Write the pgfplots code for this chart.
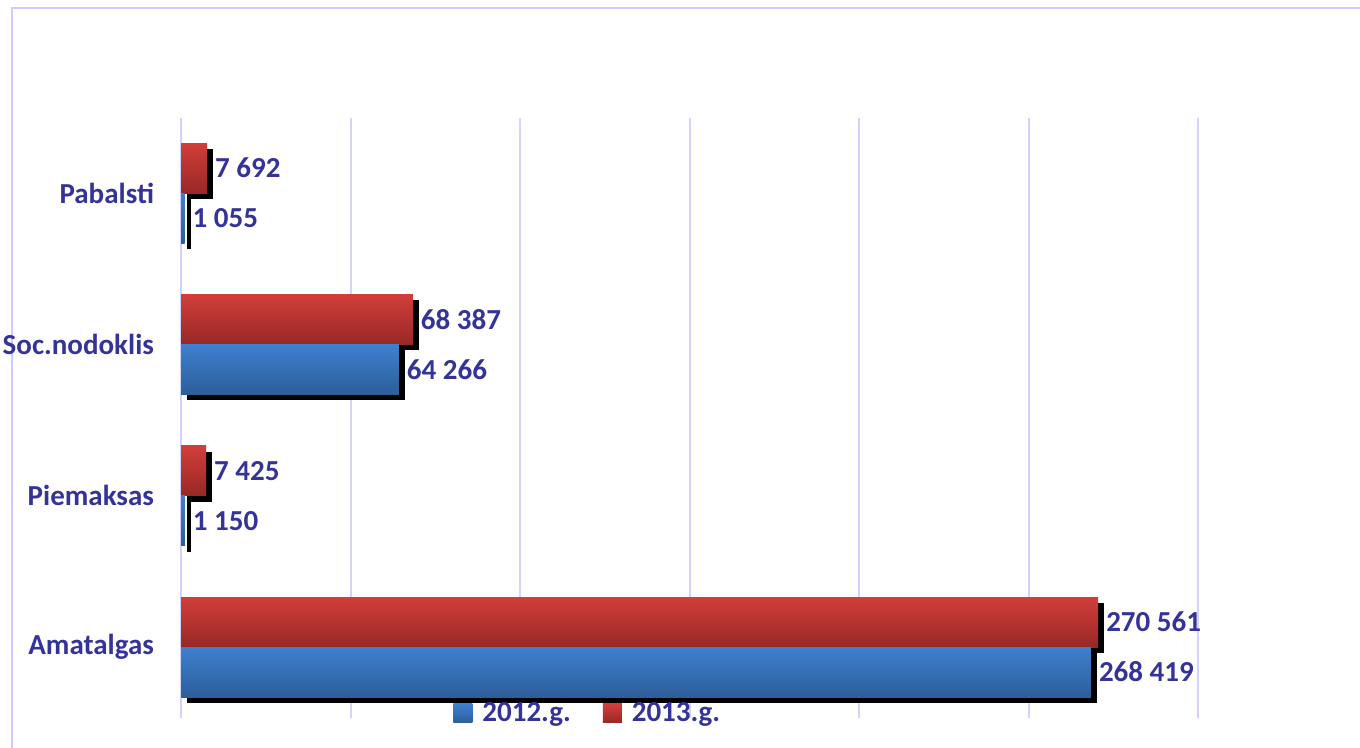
\documentclass[border=0pt]{standalone}
\usepackage{pgfplots}
\pgfplotsset{compat=1.18}
\usepackage{fontspec}
\setmainfont{Carlito}
\definecolor{lbl}{RGB}{51,51,153}
\definecolor{gridc}{RGB}{210,210,255}
\definecolor{framec}{RGB}{204,204,255}
\definecolor{redtop}{RGB}{210,62,58}
\definecolor{redbot}{RGB}{152,40,38}
\definecolor{bluetop}{RGB}{62,128,206}
\definecolor{bluebot}{RGB}{44,94,154}
\newcommand{\lblfont}{\bfseries\fontsize{14.5}{16}\selectfont}

\begin{document}
\begin{tikzpicture}[x=1pt,y=1pt]
\useasboundingbox (0,0) rectangle (680,374);
\draw[framec, line width=1.2pt] (6,-20) rectangle (700,370);
\begin{axis}[
    at={(90.5pt,15pt)}, anchor=south west,
    scale only axis, width=508.5pt, height=300pt,
    xbar, bar width=25pt,
    xmin=0, xmax=300000, ymin=-0.469, ymax=3.496,
    xtick={0,50000,100000,150000,200000,250000,300000},
    xticklabels={}, scaled x ticks=false,
    xmajorgrids, major grid style={gridc, line width=1pt},
    ytick={0,1,2,3},
    yticklabels={Amatalgas,Piemaksas,Soc.nodoklis,Pabalsti},
    axis line style={draw=none}, major tick length=0pt,
    tick label style={font=\lblfont, text=lbl},
    yticklabel style={xshift=-10pt},
    point meta=explicit symbolic,
    legend style={at={(0.401,0.0067)}, anchor=center, draw=none, fill=none,
        legend columns=-1, font=\lblfont, text=lbl,
        /tikz/every odd column/.append style={column sep=3pt},
        /tikz/every even column/.append style={column sep=14pt}},
    shadowbar/.style={draw=none, fill=black, forget plot, xshift=3pt},
    redbar/.style={draw=none, top color=redtop, bottom color=redbot, forget plot,
        bar shift=12.5pt, nodes near coords,
        nodes near coords style={font=\lblfont, text=lbl, anchor=west, xshift=0.5pt}},
    bluebar/.style={draw=none, top color=bluetop, bottom color=bluebot, forget plot,
        bar shift=-12.5pt, nodes near coords,
        nodes near coords style={font=\lblfont, text=lbl, anchor=west, xshift=0.5pt}},
]
% one plot per bar so that each bar gets its own gradient;
% 2013 (red) first so the blue bars sit over its shadow
% Amatalgas
\addplot[shadowbar, bar shift=9.5pt] coordinates {(270561,0)};
\addplot[redbar] coordinates {(270561,0)[270 561]};
\addplot[shadowbar, bar shift=-15.5pt] coordinates {(268419,0)};
\addplot[bluebar] coordinates {(268419,0)[268 419]};
% Piemaksas
\addplot[shadowbar, bar shift=9.5pt] coordinates {(7425,1)};
\addplot[redbar] coordinates {(7425,1)[7 425]};
\addplot[shadowbar, bar shift=-15.5pt] coordinates {(1150,1)};
\addplot[bluebar] coordinates {(1150,1)[1 150]};
% Soc.nodoklis
\addplot[shadowbar, bar shift=9.5pt] coordinates {(68387,2)};
\addplot[redbar] coordinates {(68387,2)[68 387]};
\addplot[shadowbar, bar shift=-15.5pt] coordinates {(64266,2)};
\addplot[bluebar] coordinates {(64266,2)[64 266]};
% Pabalsti
\addplot[shadowbar, bar shift=9.5pt] coordinates {(7692,3)};
\addplot[redbar] coordinates {(7692,3)[7 692]};
\addplot[shadowbar, bar shift=-15.5pt] coordinates {(1055,3)};
\addplot[bluebar] coordinates {(1055,3)[1 055]};
% legend
\addlegendimage{legend image code/.code={\path[draw=none, top color=bluetop, bottom color=bluebot] (0pt,-4.5pt) rectangle (9.5pt,5pt);}}
\addlegendentry{2012.g.}
\addlegendimage{legend image code/.code={\path[draw=none, top color=redtop, bottom color=redbot] (0pt,-4.5pt) rectangle (9.5pt,5pt);}}
\addlegendentry{2013.g.}
\end{axis}
\end{tikzpicture}
\end{document}
